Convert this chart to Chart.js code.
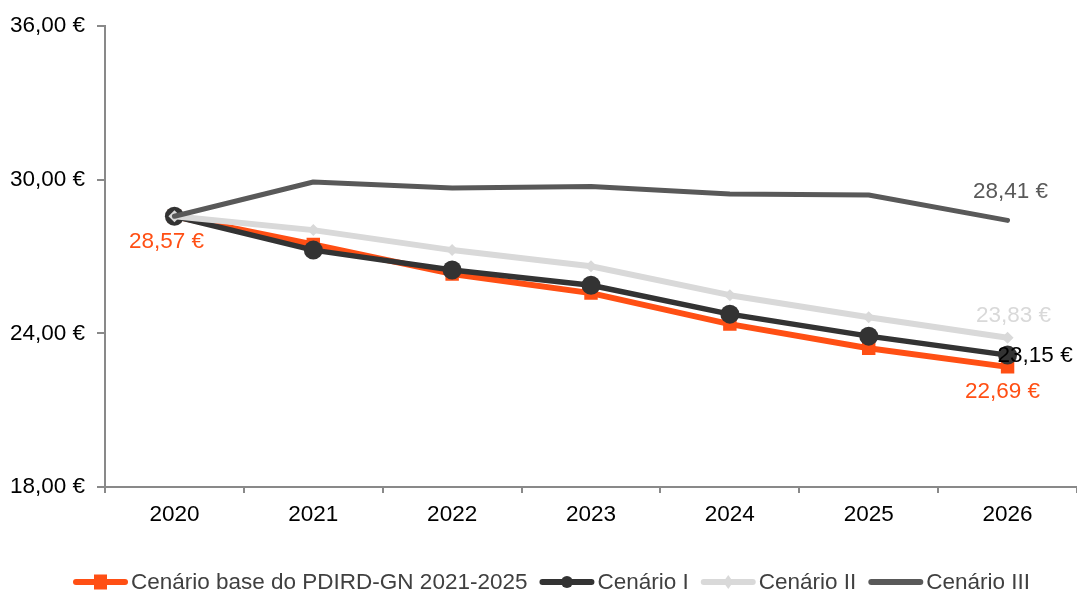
<!DOCTYPE html>
<html>
<head>
<meta charset="utf-8">
<script src="https://cdn.jsdelivr.net/npm/chart.js@4/dist/chart.umd.min.js"></script>
<style>
  html, body { margin: 0; padding: 0; background: #fff; overflow: hidden; }
  canvas { display: block; }
</style>
</head>
<body>
<canvas id="c" width="1077" height="595" style="width:1077px;height:595px"></canvas>
<script>
const categories = ['2020', '2021', '2022', '2023', '2024', '2025', '2026'];
const seriesNames = ['Cenário base do PDIRD-GN 2021-2025', 'Cenário I', 'Cenário II', 'Cenário III'];
const baseValues = [28.57, 27.47, 26.32, 25.57, 24.36, 23.42, 22.69];
const cenarioIValues = [28.57, 27.25, 26.47, 25.88, 24.75, 23.89, 23.15];
const cenarioIIValues = [28.57, 28.03, 27.25, 26.62, 25.49, 24.63, 23.83];
const cenarioIIIValues = [28.57, 29.91, 29.67, 29.73, 29.44, 29.40, 28.41];
const yTickValues = [18, 24, 30, 36];

const FONT = "'Liberation Sans', Arial, Helvetica, sans-serif";
Chart.defaults.font.family = FONT;
Chart.defaults.font.size = 22;

const fmt = v => v.toFixed(2).replace('.', ',') + ' €';

const colors = ['#FF4F14', '#333333', '#D9D9D9', '#595959'];

// data labels: [datasetIndex, pointIndex, dx, dy, align, color]
const labelPlugin = {
  id: 'valueLabels',
  afterDatasetsDraw(chart) {
    const ctx = chart.ctx;
    const specs = [
      [0, 0, -8, 26, 'center', colors[0]],
      [3, 6, 3, -29, 'center', colors[3]],
      [2, 6, 6, -22, 'center', colors[2]],
      [1, 6, -10, 1, 'left', '#000000'],
      [0, 6, -5, 25, 'center', colors[0]]
    ];
    ctx.save();
    ctx.font = '22.5px ' + FONT;
    ctx.textBaseline = 'middle';
    specs.forEach(([d, i, dx, dy, align, col]) => {
      const pt = chart.getDatasetMeta(d).data[i];
      const val = chart.data.datasets[d].data[i];
      ctx.fillStyle = col;
      ctx.textAlign = align;
      ctx.fillText(fmt(val), pt.x + dx, pt.y + dy);
    });
    ctx.restore();
  }
};

const legendPlugin = {
  id: 'customLegend',
  afterDraw(chart) {
    const ctx = chart.ctx;
    ctx.save();
    ctx.font = '22.5px ' + FONT;
    ctx.textBaseline = 'middle';
    ctx.textAlign = 'left';
    const lineW = 55, gapText = 3, gapItem = 12;
    const ds = chart.data.datasets;
    let x = 73;
    const y = 582;
    ds.forEach((d, i) => {
      ctx.strokeStyle = d.borderColor;
      ctx.lineWidth = 6;
      ctx.lineCap = 'round';
      ctx.beginPath();
      ctx.moveTo(x + 3, y);
      ctx.lineTo(x + lineW - 3, y);
      ctx.stroke();
      const cx = x + lineW / 2;
      ctx.fillStyle = d.borderColor;
      if (d.pointStyle === 'rect') {
        ctx.fillRect(cx - 6.5, y - 7.5, 13, 15);
      } else if (d.pointStyle === 'circle') {
        ctx.beginPath(); ctx.arc(cx, y, 6, 0, Math.PI * 2); ctx.fill();
      } else if (d.pointStyle === 'rectRot') {
        ctx.beginPath();
        ctx.moveTo(cx, y - 7); ctx.lineTo(cx + 5, y); ctx.lineTo(cx, y + 7); ctx.lineTo(cx - 5, y);
        ctx.closePath(); ctx.fill();
      }
      x += lineW + gapText;
      ctx.fillStyle = '#404040';
      ctx.fillText(d.label, x, y + 1);
      x += ctx.measureText(d.label).width + gapItem;
    });
    ctx.restore();
  }
};

new Chart(document.getElementById('c'), {
  type: 'line',
  data: {
    labels: categories,
    datasets: [
      {
        label: seriesNames[0], data: baseValues,
        borderColor: colors[0], backgroundColor: colors[0],
        borderWidth: 6, pointStyle: 'rect', pointRadius: 9.5, pointBorderWidth: 0,
        order: 3, tension: 0
      },
      {
        label: seriesNames[1], data: cenarioIValues,
        borderColor: colors[1], backgroundColor: colors[1],
        borderWidth: 5.5, pointStyle: 'circle', pointRadius: 9.5, pointBorderWidth: 0,
        order: 2, tension: 0
      },
      {
        label: seriesNames[2], data: cenarioIIValues,
        borderColor: colors[2], backgroundColor: colors[2],
        borderWidth: 6, pointStyle: 'rectRot', pointRadius: 6, pointBorderWidth: 0,
        order: 1, tension: 0
      },
      {
        label: seriesNames[3], data: cenarioIIIValues,
        borderColor: colors[3], backgroundColor: colors[3],
        borderWidth: 5, pointRadius: 0,
        order: 0, tension: 0
      }
    ]
  },
  options: {
    responsive: false,
    maintainAspectRatio: false,
    devicePixelRatio: 1,
    animation: false,
    layout: { autoPadding: false, padding: { top: 26, right: 0, left: 0, bottom: 63 } },
    plugins: {
      legend: { display: false },
      tooltip: { enabled: false }
    },
    elements: { line: { borderCapStyle: 'round', borderJoinStyle: 'round' } },
    scales: {
      x: {
        offset: true,
        grid: { display: true, offset: true, drawOnChartArea: false, drawTicks: true, tickLength: 6, color: '#898989', lineWidth: 2 },
        border: { display: true, color: '#898989', width: 2 },
        ticks: { color: '#000000', padding: 8, font: { size: 22.5 }, maxRotation: 0 },
        afterFit(scale) { scale.height = 45; scale.paddingRight = 0; scale.paddingLeft = 0; }
      },
      y: {
        min: 18, max: 36,
        afterBuildTicks(scale) { scale.ticks = yTickValues.map(v => ({ value: v })); },
        grid: { display: true, drawOnChartArea: false, drawTicks: true, tickLength: 8, color: '#898989', lineWidth: 2 },
        border: { display: true, color: '#898989', width: 2 },
        ticks: { color: '#000000', padding: 12, font: { size: 22.5 }, callback: v => fmt(v) },
        afterFit(scale) { scale.width = 105; }
      }
    }
  },
  plugins: [labelPlugin, legendPlugin]
});
</script>
</body>
</html>
